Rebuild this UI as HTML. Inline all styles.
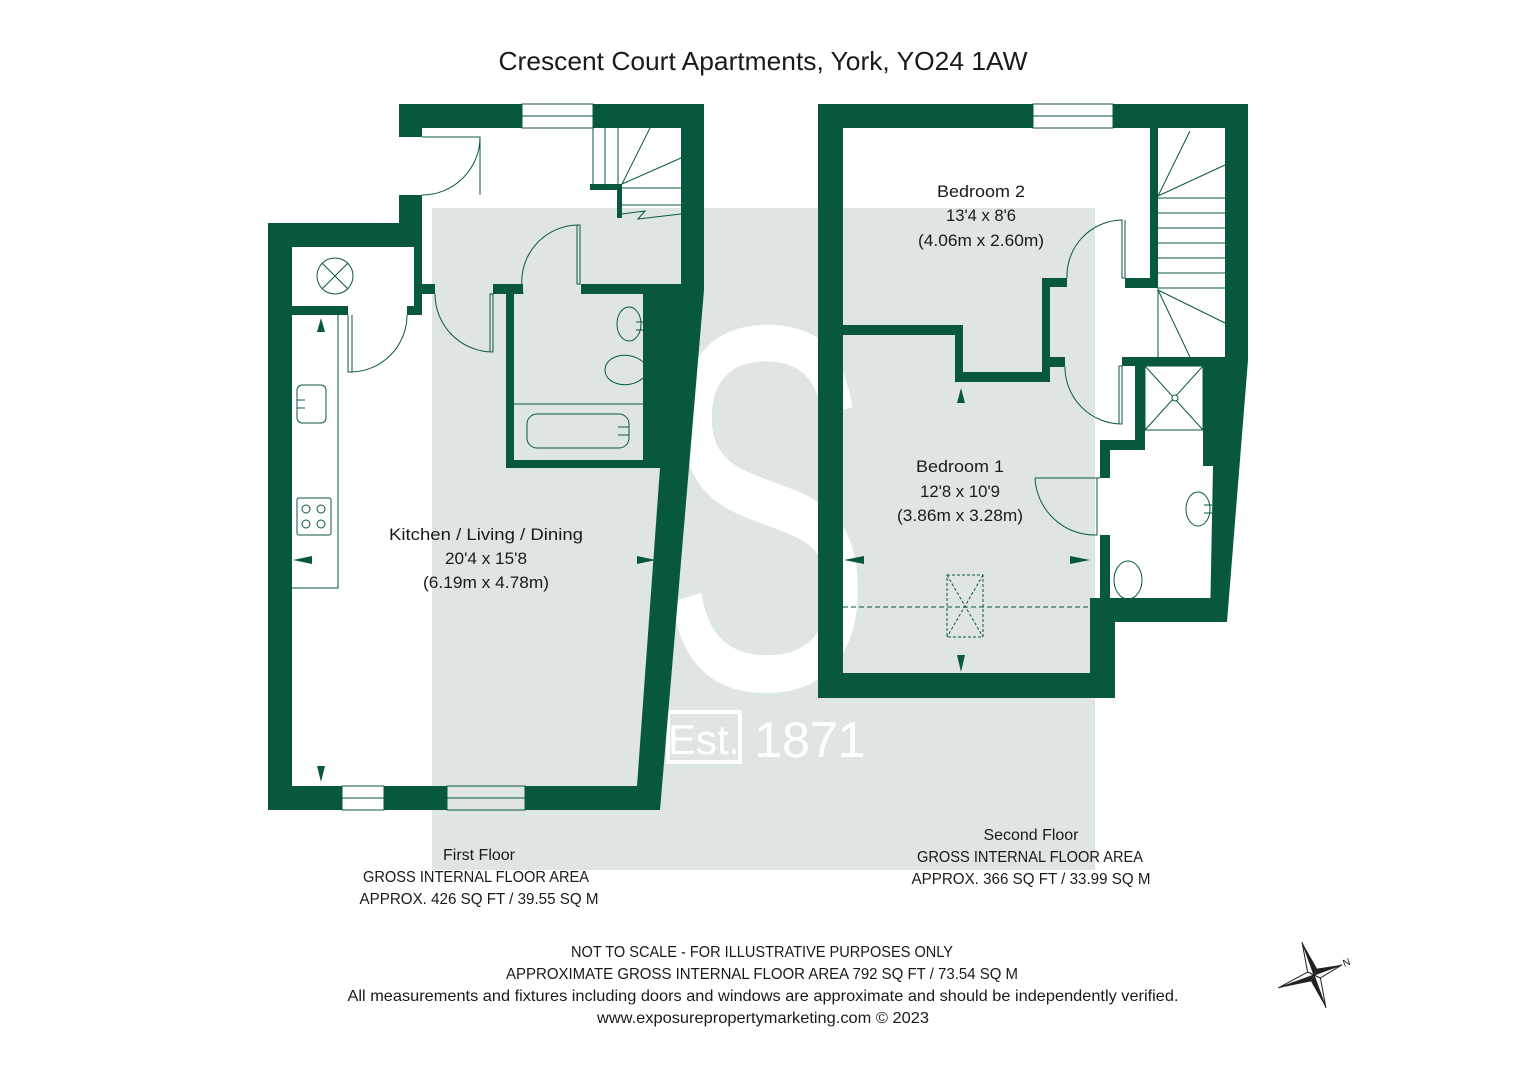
<!DOCTYPE html>
<html><head><meta charset="utf-8"><style>
html,body{margin:0;padding:0;background:#fff}
svg{display:block}
text{font-family:"Liberation Sans","DejaVu Sans",sans-serif;fill:#1a1a1a}
</style></head><body>
<svg width="1527" height="1080" viewBox="0 0 1527 1080" xmlns="http://www.w3.org/2000/svg">
<rect width="1527" height="1080" fill="#fff"/>
<!-- watermark -->
<rect x="432" y="208" width="663" height="662" fill="#dfe5e2"/>
<text x="765" y="688" text-anchor="middle" font-size="520" transform="translate(765,0) scale(0.62,1) translate(-765,0)" style="fill:#fff">S</text>
<rect x="668" y="712" width="72" height="50" fill="none" stroke="#fff" stroke-width="4"/>
<text x="704" y="754" text-anchor="middle" font-size="42" style="fill:#fff">Est.</text>
<text x="810" y="757" text-anchor="middle" font-size="50" style="fill:#fff">1871</text>

<text x="763" y="70" text-anchor="middle" font-size="26" textLength="529" lengthAdjust="spacingAndGlyphs">Crescent Court Apartments, York, YO24 1AW</text>

<g fill="#08583c">
<!-- FIRST FLOOR -->
<rect x="399" y="104" width="123" height="24"/>
<rect x="593" y="104" width="111" height="24"/>
<rect x="399" y="128" width="23" height="9"/>
<rect x="399" y="195" width="23" height="52"/>
<rect x="268" y="223" width="154" height="24"/>
<rect x="414" y="247" width="8" height="68"/>
<rect x="407" y="306" width="15" height="9"/>
<rect x="422" y="284" width="13" height="10"/>
<rect x="292" y="306" width="56" height="9"/>
<rect x="268" y="223" width="24" height="587"/>
<rect x="268" y="786" width="74" height="24"/>
<rect x="384" y="786" width="63" height="24"/>
<rect x="525" y="786" width="135" height="24"/>
<rect x="493" y="284" width="30" height="10"/>
<rect x="506" y="284" width="8" height="184"/>
<rect x="581" y="284" width="100" height="10"/>
<rect x="506" y="460" width="154" height="8"/>
<rect x="590" y="184" width="32" height="6"/>
<rect x="617" y="184" width="5" height="34"/>
<polygon points="681,104 704,104 704,290 660,810 637,810 637,786 660,468 643,468 643,294 681,294"/>
<!-- SECOND FLOOR -->
<rect x="818" y="104" width="215" height="24"/>
<rect x="1113" y="104" width="135" height="24"/>
<rect x="818" y="104" width="25" height="594"/>
<rect x="818" y="673" width="297" height="25"/>
<rect x="1090" y="598" width="25" height="100"/>
<rect x="1150" y="128" width="8" height="160"/>
<rect x="1125" y="278" width="33" height="10"/>
<rect x="1042" y="278" width="25" height="9"/>
<rect x="1042" y="278" width="8" height="104"/>
<rect x="843" y="325" width="120" height="10"/>
<rect x="955" y="325" width="8" height="57"/>
<rect x="955" y="372" width="95" height="10"/>
<rect x="1050" y="357" width="15" height="10"/>
<rect x="1122" y="357" width="103" height="9"/>
<rect x="1135" y="366" width="10" height="84"/>
<rect x="1100" y="440" width="45" height="10"/>
<rect x="1100" y="440" width="10" height="38"/>
<rect x="1100" y="535" width="10" height="75"/>
<rect x="1100" y="598" width="127" height="24"/>
<polygon points="1225,104 1248,104 1248,360 1227,622 1210,622 1213,466 1203,466 1203,366 1225,366"/>
<!-- arrows -->
<polygon points="321,318 317,332 325,332"/>
<polygon points="293,560 312,556 312,564"/>
<polygon points="656,560 637,556 637,564"/>
<polygon points="321,782 317,766 325,766"/>
<polygon points="961,388 957,403 965,403"/>
<polygon points="844,560 864,556 864,564"/>
<polygon points="1090,560 1070,556 1070,564"/>
<polygon points="961,672 957,655 965,655"/>
</g>

<g fill="none" stroke="#08583c" stroke-width="1">
<rect x="522" y="104" width="71" height="24"/><line x1="522" y1="116" x2="593" y2="116"/>
<rect x="342" y="786" width="42" height="24"/><line x1="342" y1="798" x2="384" y2="798"/>
<rect x="447" y="786" width="78" height="24"/><line x1="447" y1="798" x2="525" y2="798"/>
<rect x="1033" y="104" width="80" height="24"/><line x1="1033" y1="116" x2="1113" y2="116"/>
<path d="M422 137 H480 V195 M480 137 A58 58 0 0 1 422 195"/>
<path d="M348 315 V372 H352 V315 M352 372 A57 57 0 0 0 407 315"/>
<path d="M435 294 A58 58 0 0 0 493 352 V294 H490 V352"/>
<path d="M523 294 A57 57 0 0 1 580 225 V284 H577 V225"/>
<line x1="593" y1="128" x2="593" y2="184"/>
<line x1="605" y1="128" x2="605" y2="184"/>
<line x1="618" y1="128" x2="618" y2="184"/>
<line x1="622" y1="184" x2="650" y2="128"/>
<line x1="622" y1="184" x2="681" y2="158"/>
<line x1="622" y1="188" x2="681" y2="188"/>
<line x1="622" y1="205" x2="681" y2="205"/>
<path d="M622 214 L645 211 L638 219 L681 214"/>
<circle cx="335" cy="276" r="18"/>
<line x1="322" y1="263" x2="348" y2="289"/><line x1="348" y1="263" x2="322" y2="289"/>
<path d="M338 315 V588 H292"/>
<rect x="297" y="385" width="29" height="38" rx="5"/>
<path d="M297 400 H305 M297 408 H305"/>
<rect x="297" y="498" width="34" height="37" rx="2"/>
<circle cx="306" cy="509" r="4"/><circle cx="321" cy="509" r="4"/>
<circle cx="306" cy="524" r="4"/><circle cx="321" cy="524" r="4"/>
<ellipse cx="629" cy="324" rx="12" ry="17"/>
<path d="M643 322 H636 M643 330 H636"/>
<path d="M643 362 C630 350 605 355 605 370 C605 385 630 390 643 378"/>
<line x1="514" y1="404" x2="643" y2="404"/>
<rect x="527" y="414" width="102" height="34" rx="10"/>
<path d="M629 427 H618 M629 435 H618"/>
<path d="M1067 278 A56 56 0 0 1 1122 220 V278 H1125 V220"/>
<path d="M1065 367 A57 57 0 0 0 1122 424 V366 H1119 V424"/>
<path d="M1035 478 H1100 M1035 478 A60 60 0 0 0 1097 535 V478"/>
<line x1="1158" y1="196" x2="1190" y2="131"/>
<line x1="1158" y1="196" x2="1225" y2="165"/>
<line x1="1158" y1="198" x2="1225" y2="198"/>
<line x1="1158" y1="213" x2="1225" y2="213"/>
<line x1="1158" y1="228" x2="1225" y2="228"/>
<line x1="1158" y1="243" x2="1225" y2="243"/>
<line x1="1158" y1="258" x2="1225" y2="258"/>
<line x1="1158" y1="273" x2="1225" y2="273"/>
<line x1="1158" y1="288" x2="1225" y2="288"/>
<line x1="1158" y1="290" x2="1225" y2="323"/>
<line x1="1158" y1="290" x2="1190" y2="357"/>
<line x1="1158" y1="288" x2="1158" y2="357"/>
<rect x="1145" y="366" width="58" height="64"/>
<line x1="1145" y1="366" x2="1203" y2="430"/><line x1="1203" y1="366" x2="1145" y2="430"/>
<circle cx="1175" cy="398" r="3" fill="#fff"/>
<ellipse cx="1198" cy="509" rx="12" ry="17"/>
<path d="M1212 505 H1204 M1212 513 H1204"/>
<ellipse cx="1128" cy="580" rx="14" ry="19"/>
<rect x="947" y="575" width="36" height="62" stroke-dasharray="3,2"/>
<line x1="947" y1="575" x2="983" y2="637" stroke-dasharray="3,2"/>
<line x1="983" y1="575" x2="947" y2="637" stroke-dasharray="3,2"/>
<line x1="843" y1="607" x2="1090" y2="607" stroke-dasharray="5,3"/>
</g>

<g font-size="17" text-anchor="middle" lengthAdjust="spacingAndGlyphs">
<text x="486" y="540" textLength="194" lengthAdjust="spacingAndGlyphs">Kitchen / Living / Dining</text>
<text x="486" y="564" textLength="82" lengthAdjust="spacingAndGlyphs">20'4 x 15'8</text>
<text x="486" y="588" textLength="126" lengthAdjust="spacingAndGlyphs">(6.19m x 4.78m)</text>
<text x="981" y="197" textLength="88" lengthAdjust="spacingAndGlyphs">Bedroom 2</text>
<text x="981" y="221" textLength="70" lengthAdjust="spacingAndGlyphs">13'4 x 8'6</text>
<text x="981" y="246" textLength="126" lengthAdjust="spacingAndGlyphs">(4.06m x 2.60m)</text>
<text x="960" y="472" textLength="88" lengthAdjust="spacingAndGlyphs">Bedroom 1</text>
<text x="960" y="497" textLength="80" lengthAdjust="spacingAndGlyphs">12'8 x 10'9</text>
<text x="960" y="521" textLength="126" lengthAdjust="spacingAndGlyphs">(3.86m x 3.28m)</text>
</g>
<g font-size="16" text-anchor="middle">
<text x="479" y="860" textLength="72" lengthAdjust="spacingAndGlyphs">First Floor</text>
<text x="476" y="882" textLength="226" lengthAdjust="spacingAndGlyphs">GROSS INTERNAL FLOOR AREA</text>
<text x="479" y="904" textLength="239" lengthAdjust="spacingAndGlyphs">APPROX. 426 SQ FT / 39.55 SQ M</text>
<text x="1031" y="840" textLength="95" lengthAdjust="spacingAndGlyphs">Second Floor</text>
<text x="1030" y="862" textLength="226" lengthAdjust="spacingAndGlyphs">GROSS INTERNAL FLOOR AREA</text>
<text x="1031" y="884" textLength="239" lengthAdjust="spacingAndGlyphs">APPROX. 366 SQ FT / 33.99 SQ M</text>
<text x="762" y="957" textLength="382" lengthAdjust="spacingAndGlyphs">NOT TO SCALE - FOR ILLUSTRATIVE PURPOSES ONLY</text>
<text x="762" y="979" textLength="512" lengthAdjust="spacingAndGlyphs">APPROXIMATE GROSS INTERNAL FLOOR AREA 792 SQ FT / 73.54 SQ M</text>
<text x="763" y="1001" textLength="831" lengthAdjust="spacingAndGlyphs">All measurements and fixtures including doors and windows are approximate and should be independently verified.</text>
<text x="763" y="1023" textLength="332" lengthAdjust="spacingAndGlyphs">www.exposurepropertymarketing.com © 2023</text>
</g>
<g transform="translate(1314,975) rotate(-20)">
<polygon points="0,-35 5,-5 0,0" fill="#222"/><polygon points="0,-35 -5,-5 0,0" fill="#fff" stroke="#222" stroke-width="1"/>
<polygon points="0,35 -5,5 0,0" fill="#222"/><polygon points="0,35 5,5 0,0" fill="#fff" stroke="#222" stroke-width="1"/>
<polygon points="-38,0 -5,5 0,0" fill="#222"/><polygon points="-38,0 -5,-5 0,0" fill="#fff" stroke="#222" stroke-width="1"/>
<polygon points="30,0 5,-5 0,0" fill="#222"/><polygon points="30,0 5,5 0,0" fill="#fff" stroke="#222" stroke-width="1"/>
</g>
<text x="1343" y="966" font-size="10" transform="rotate(-20 1346 963)">N</text>
</svg>
</body></html>
